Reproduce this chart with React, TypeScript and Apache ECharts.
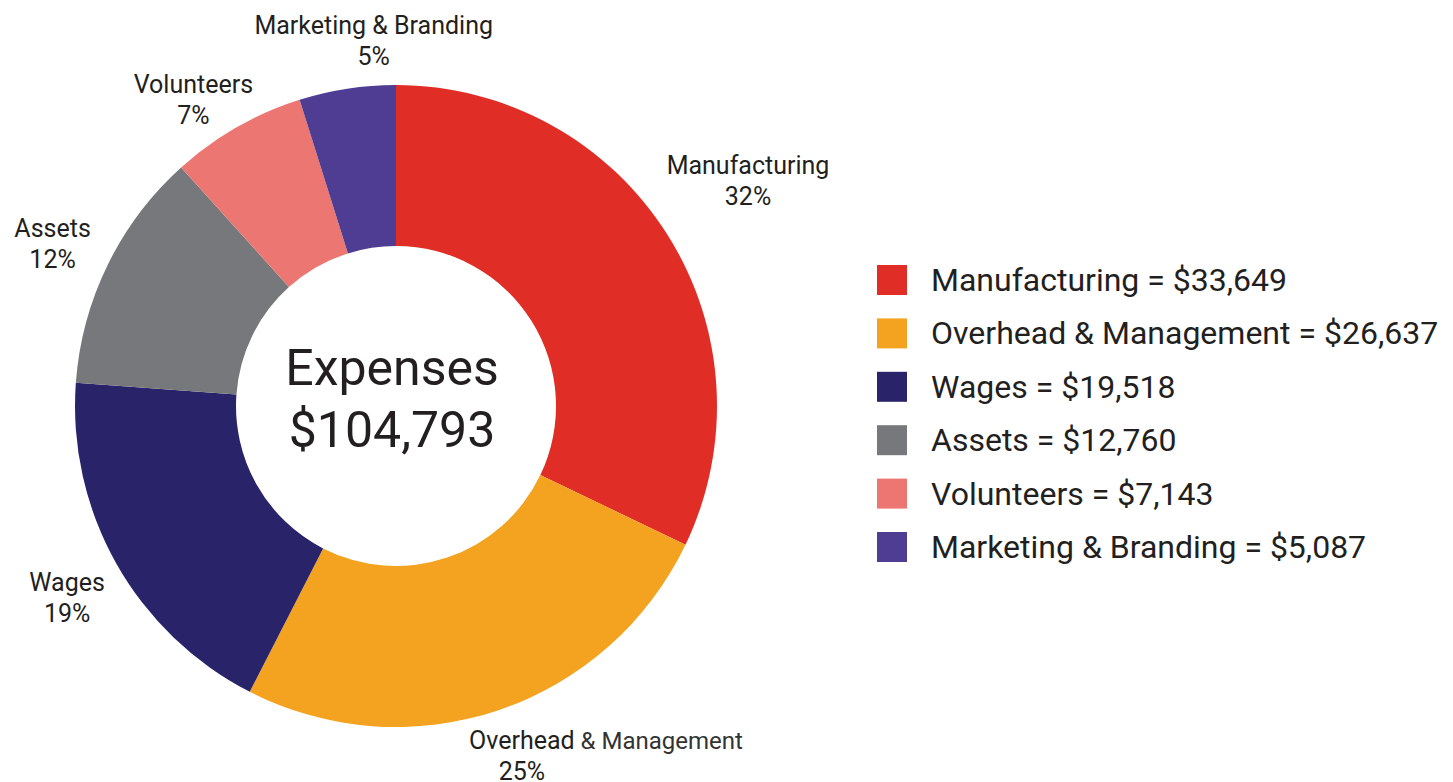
import React, { useEffect, useRef } from "react";
import * as echarts from "echarts";

// ---- data ----
const categories = [
  "Manufacturing",
  "Overhead & Management",
  "Wages",
  "Assets",
  "Volunteers",
  "Marketing & Branding",
];
const amounts = [33649, 26637, 19518, 12760, 7143, 5087];
const totalExpenses = 104793;
const centerTitle = "Expenses";

// ---- styles ----
const colors = ["#e02e27", "#f3a31f", "#29246a", "#77787b", "#ec7672", "#4f3c93"];
// label distance beyond the outer radius, and small nudges of each label
const labelGaps = [95, 51, 61, 58, 45, 43];
const labelNudges: [number, number][] = [
  [0, -3],
  [7, -2],
  [4, 5],
  [-3, 5],
  [-21, 12],
  [33, -5],
];
const TEXT = "#231f20";
const FONT = "Roboto";

const fmt = (v: number) => "$" + v.toLocaleString("en-US");

export default function App() {
  const ref = useRef<HTMLDivElement>(null);
  useEffect(() => {
    if (!ref.current) return;
    const chart = echarts.init(ref.current, undefined, { renderer: "svg" });
    const valueByName: Record<string, number> = {};
    categories.forEach((c, i) => (valueByName[c] = amounts[i]));

    chart.setOption({
      animation: false,
      backgroundColor: "#ffffff",
      color: colors,
      legend: {
        orient: "vertical",
        left: 877,
        top: 264,
        padding: 0,
        itemWidth: 30,
        itemHeight: 30,
        itemGap: 21.4,
        icon: "rect",
        selectedMode: false,
        data: categories,
        formatter: (name: string) => `${name} = ${fmt(valueByName[name])}`,
        textStyle: {
          fontFamily: FONT,
          fontSize: 32,
          color: TEXT,
          padding: [0, 0, 0, 19],
        },
      },
      graphic: [
        {
          type: "text",
          x: 392,
          y: 399,
          style: {
            text: `${centerTitle}\n${fmt(totalExpenses)}`,
            fontFamily: FONT,
            fontSize: 50,
            lineHeight: 62,
            fill: TEXT,
            align: "center",
            verticalAlign: "middle",
          },
        },
      ],
      series: [
        {
          type: "pie",
          center: [396, 406],
          radius: [160, 321],
          startAngle: 90,
          clockwise: true,
          avoidLabelOverlap: false,
          percentPrecision: 0,
          label: {
            show: true,
            position: "outside",
            distanceToLabelLine: 0,
            fontFamily: FONT,
            fontSize: 25,
            lineHeight: 31,
            color: TEXT,
            formatter: (p: any) => {
              if (p.dataIndex === 1) {
                return `{o|Overhead}{m| & Management}\n{p|${p.percent}%}`;
              }
              return `${p.name}\n${p.percent}%`;
            },
            rich: {
              o: { fontFamily: FONT, fontSize: 25, lineHeight: 31, color: TEXT, padding: [0, 0, 0, 168] },
              m: { fontFamily: FONT, fontSize: 24, lineHeight: 31, color: "#333333" },
              p: { fontFamily: FONT, fontSize: 25, lineHeight: 31, color: TEXT },
            },
          },
          labelLine: { show: false, length: 50, length2: 0 },
          labelLayout: (params: any) => {
            const n = labelNudges[params.dataIndex] || [0, 0];
            return {
              align: "center",
              verticalAlign: "middle",
              hideOverlap: false,
              dx: n[0],
              dy: n[1],
            };
          },
          data: categories.map((name, i) => ({
            name,
            value: amounts[i],
            label: { show: true },
            labelLine: { show: false, length: labelGaps[i], length2: 0 },
          })),
        },
      ],
    });
    return () => chart.dispose();
  }, []);
  return (
    <div
      ref={ref}
      style={{ position: "absolute", left: 0, top: 0, width: 1453, height: 782 }}
    />
  );
}
